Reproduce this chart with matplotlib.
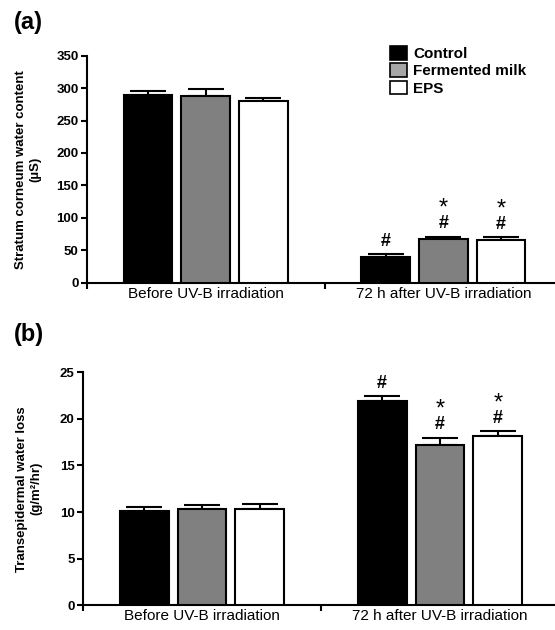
import matplotlib
matplotlib.use("Agg")
from matplotlib import pyplot as plt
from matplotlib.patches import Patch
import numpy as np

plt.rcParams['font.family'] = ['Liberation Sans', 'DejaVu Sans']

groups = ["Before UV-B irradiation", "72 h after UV-B irradiation"]
treatments = ["Control", "Fermented milk", "EPS"]
colors = ["black", "#808080", "white"]
legend_colors = ["black", "#a6a6a6", "white"]

# (a) stratum corneum water content (uS), mean and SE per treatment
water_mean = {"Control": [290, 39], "Fermented milk": [288, 67], "EPS": [280, 66]}
water_se = {"Control": [6, 5], "Fermented milk": [10, 4], "EPS": [5, 4]}
water_marks = {"Control": ["", "#"], "Fermented milk": ["", "*#"], "EPS": ["", "*#"]}

# (b) transepidermal water loss (g/m2/hr)
tewl_mean = {"Control": [10.15, 21.95], "Fermented milk": [10.3, 17.2], "EPS": [10.3, 18.2]}
tewl_se = {"Control": [0.4, 0.5], "Fermented milk": [0.5, 0.8], "EPS": [0.6, 0.45]}
tewl_marks = {"Control": ["", "#"], "Fermented milk": ["", "*#"], "EPS": ["", "*#"]}


def draw_panel(ax, means, ses, marks, ymax, ystep, ylabel, labelx):
    x = np.arange(len(groups))
    offset = 0.243
    width = 0.205
    for i, t in enumerate(treatments):
        xs = x + (i - 1) * offset
        m = np.array(means[t])
        se = np.array(ses[t])
        ax.errorbar(xs, m, yerr=[np.zeros_like(se), se], fmt="none", ecolor="black",
                    elinewidth=1.5, capsize=13, capthick=1.5, zorder=2)
        ax.bar(xs, m, width, color=colors[i], edgecolor="black", linewidth=1.5, zorder=3)
        for xx, mm, ss, mk in zip(xs, m, se, marks[t]):
            if "#" in mk:
                ax.annotate("#", xy=(xx, mm + ss), xytext=(0, 3), textcoords="offset points",
                            ha="center", va="bottom", fontsize=13, fontweight="bold")
            if "*" in mk:
                ax.annotate("*", xy=(xx, mm + ss), xytext=(0, 12), textcoords="offset points",
                            ha="center", va="bottom", fontsize=17)

    ax.set_xlim(-0.5, 1.5)
    ax.set_ylim(0, ymax)
    ax.set_yticks(np.arange(0, ymax + 0.01, ystep))
    ax.set_xticks([-0.5, 0.5, 1.5])
    ax.set_xticklabels([])
    ax.set_xticks(x, minor=True)
    ax.set_xticklabels(groups, minor=True, fontsize=11)
    ax.tick_params(axis="x", which="major", direction="out", length=4, width=1.5)
    ax.tick_params(axis="x", which="minor", length=0, pad=3)
    ax.tick_params(axis="y", direction="out", length=4, width=1.5, labelsize=9.5, pad=2)
    for lbl in ax.get_yticklabels():
        lbl.set_fontweight("bold")
    for s in ["top", "right"]:
        ax.spines[s].set_visible(False)
    for s in ["left", "bottom"]:
        ax.spines[s].set_linewidth(1.5)
    ax.set_ylabel(ylabel, fontsize=9.5, fontweight="bold", va="center", linespacing=1.25)
    ax.yaxis.set_label_coords(labelx, 0.5)


fig = plt.figure(figsize=(5.55, 6.3), dpi=100)
W, H = 555.0, 630.0
ax1 = fig.add_axes([87 / W, 1 - 282.7 / H, 475 / W, 227 / H])
ax2 = fig.add_axes([83 / W, 1 - 605.3 / H, 476 / W, 233 / H])

draw_panel(ax1, water_mean, water_se, water_marks, 350, 50,
           "Stratum corneum water content\n(\u00b5S)", -0.123)
draw_panel(ax2, tewl_mean, tewl_se, tewl_marks, 25, 5,
           "Transepidermal water loss\n(g/m\u00b2/hr)", -0.113)

fig.text(14 / W, 1 - 11 / H, "(a)", fontsize=17, fontweight="bold", va="top")
fig.text(14 / W, 1 - 323 / H, "(b)", fontsize=17, fontweight="bold", va="top")

handles = [Patch(facecolor=c, edgecolor="black", linewidth=1.2) for c in legend_colors]
fig.legend(handles, treatments, loc="upper left", bbox_to_anchor=(390 / W, 1 - 46 / H),
           bbox_transform=fig.transFigure, frameon=False, borderpad=0, borderaxespad=0,
           handlelength=1.1, handleheight=1.0, labelspacing=0.15, handletextpad=0.4,
           prop={"size": 11, "weight": "bold"})

fig.savefig("out.png", dpi=100)
